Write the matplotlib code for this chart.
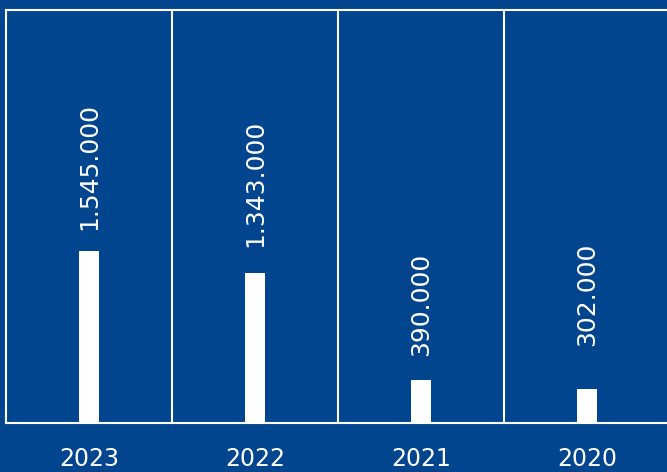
import matplotlib
matplotlib.use("Agg")
import matplotlib.pyplot as plt

years = ["2023", "2022", "2021", "2020"]
values = [1545000, 1343000, 390000, 302000]
labels = ["1.545.000", "1.343.000", "390.000", "302.000"]
# gap between bar top and its label, in points
label_gap = [15, 19, 17, 31]

bg = "#01458F"

fig = plt.figure(figsize=(6.67, 4.72), dpi=100, facecolor=bg)
ax = fig.add_axes([6 / 667, 49 / 472, 664 / 667, 413 / 472])
ax.set_facecolor(bg)

x = range(len(years))
bars = ax.bar(x, values, width=0.12, color="white", zorder=3)

for rect, text, gap in zip(bars, labels, label_gap):
    ax.annotate(text, (rect.get_x() + rect.get_width() / 2, rect.get_height()),
                xytext=(0, gap), textcoords="offset points",
                rotation=90, ha="center", va="bottom",
                color="white", fontsize=18)

for xv in [0.5, 1.5, 2.5]:
    ax.axvline(xv, color="white", lw=1.5, zorder=2)

ax.set_xlim(-0.5, 3.5)
ax.set_ylim(0, 3710000)
ax.set_xticks(list(x), years)
ax.tick_params(axis="x", length=0, pad=17, colors="white", labelsize=17)
ax.set_yticks([])

for side in ["left", "top", "bottom", "right"]:
    ax.spines[side].set_color("white")
    ax.spines[side].set_linewidth(1.5)

fig.savefig("out.png", dpi=100, facecolor=bg)
